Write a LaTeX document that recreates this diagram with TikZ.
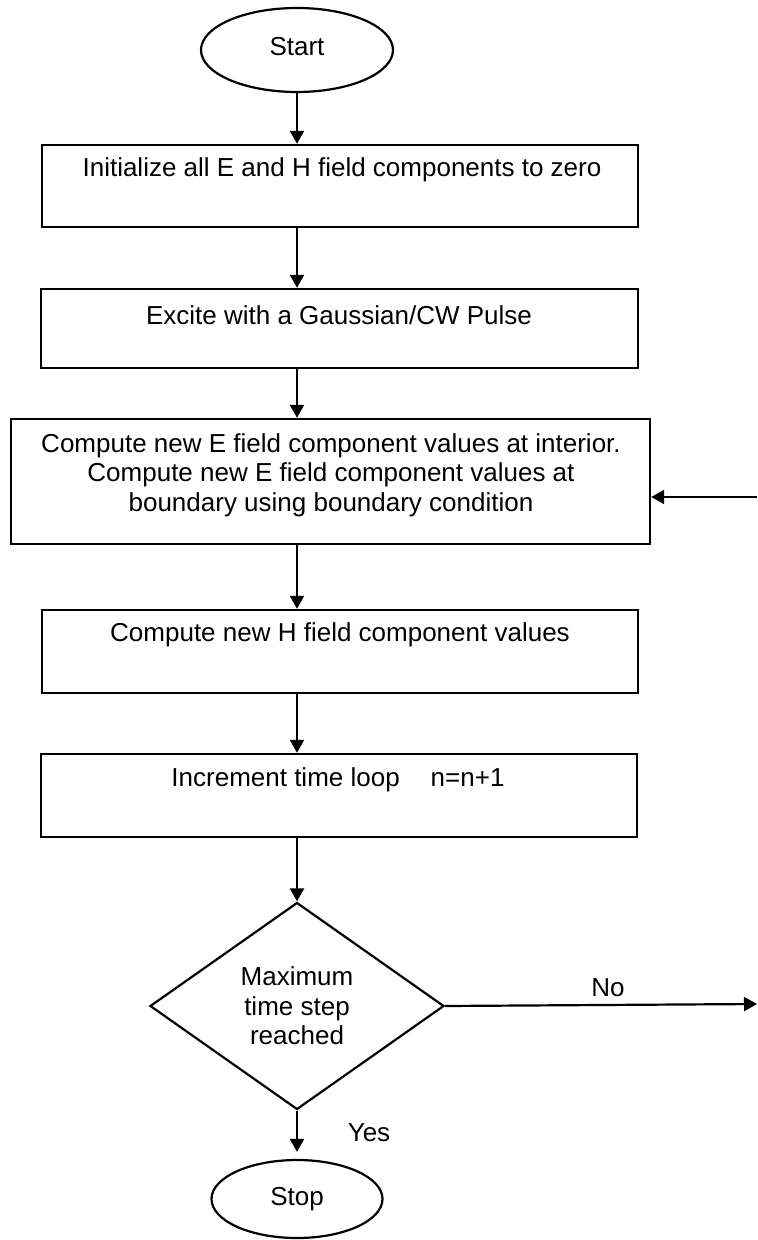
\documentclass[tikz,border=0pt]{standalone}
\usepackage{fontspec}
\setmainfont{Liberation Sans}
\usetikzlibrary{shapes.geometric,arrows.meta}
\begin{document}
\begin{tikzpicture}[x=0.5pt,y=-0.5pt,
  every node/.style={font=\fontsize{13pt}{14.75pt}\selectfont},
  terminal/.style={draw, ellipse, line width=1.1pt, inner sep=0pt},
  stepbox/.style={draw, rectangle, line width=1.2pt, inner sep=0pt},
  boxtext/.style={align=center, inner sep=0pt},
  decision/.style={draw, diamond, line width=1.1pt, inner sep=0pt, align=center,
    minimum width=147pt, minimum height=103.5pt},
  flow/.style={line width=1.1pt, -{Triangle[length=6.5pt,width=7pt]}},
  tag/.style={inner sep=0pt}]
\useasboundingbox (0,0) rectangle (757,1240);

% main column of the flow
\coordinate (axis) at (297,0);

\node[terminal, minimum width=96pt, minimum height=42pt] (start) at (297,50) {\raisebox{3.5pt}{Start}};

\node[stepbox, minimum width=298pt, minimum height=41pt] (init) at (340,186) {};
\node[boxtext] (init-t) at (342,170) {Initialize all E and H field components to zero};

\node[stepbox, minimum width=298.5pt, minimum height=39.5pt] (excite) at (339.5,328.5) {};
\node[boxtext] (excite-t) at (339,315) {Excite with a Gaussian/CW Pulse};

\node[stepbox, minimum width=319.5pt, minimum height=62.5pt] (compE) at (330.5,481.5) {};
\node[boxtext] (compE-t) at (331,475) {Compute new E field component values at interior.\\
  Compute new E field component values at\\
  boundary using boundary condition};

\node[stepbox, minimum width=298pt, minimum height=41.5pt] (compH) at (340,651.5) {};
\node[boxtext] (compH-t) at (340,635) {Compute new H field component values};

\node[stepbox, minimum width=298pt, minimum height=41.5pt] (incr) at (339,795.5) {};
\node[boxtext] (incr-t) at (338,780) {Increment time loop\hspace{15.5pt}n=n+1};

\node[decision] (check) at (297,1006) {Maximum\\time step\\reached};

\node[terminal, minimum width=85.5pt, minimum height=39pt] (stop) at (297,1199) {Stop};

% connectors
\draw[flow] (start.south) -- (start.south |- init.north);
\draw[flow] (init.south -| axis) -- (excite.north -| axis);
\draw[flow] (excite.south -| axis) -- (compE.north -| axis);
\draw[flow] (compE.south -| axis) -- (compH.north -| axis);
\draw[flow] (compH.south -| axis) -- (incr.north -| axis);
\draw[flow] (incr.south -| axis) -- (check.north);
\draw[flow, shorten >=3.5pt] (check.south) -- (stop.north);

% loop-back ends at the right margin
\coordinate (loopout) at (757,1004);
\coordinate (loopin) at (757,497);
\draw[flow] (check.east) -- (loopout);
\draw[flow] (loopin) -- (loopin -| compE.east);

\node[tag] (no) at (608,988) {No};
\node[tag] (yes) at (369,1133) {Yes};
\end{tikzpicture}
\end{document}
